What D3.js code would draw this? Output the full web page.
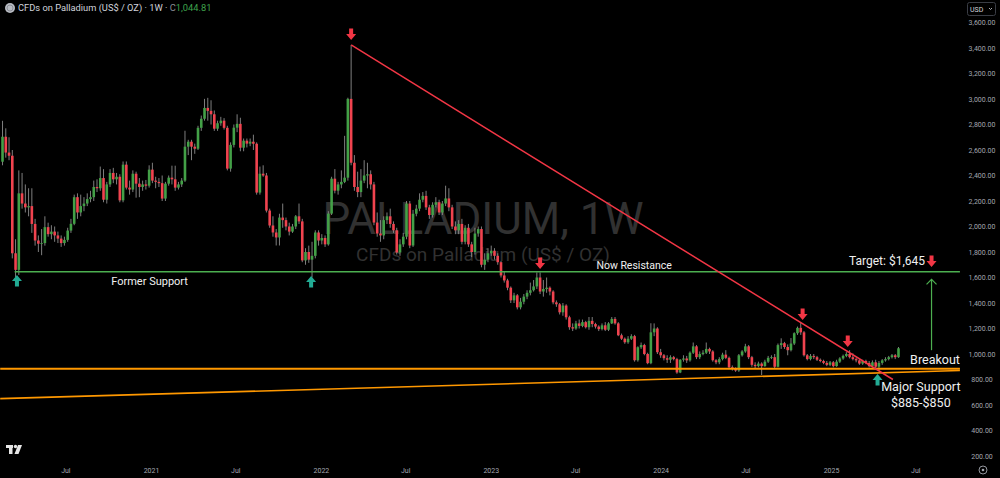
<!DOCTYPE html>
<html>
<head>
<meta charset="utf-8">
<script src="https://cdn.jsdelivr.net/npm/d3@7/dist/d3.min.js"></script>
<style>
  html, body { margin: 0; padding: 0; background: #000; }
  svg { display: block; }
  text { font-family: Roboto, "Noto Sans", sans-serif; }
</style>
</head>
<body>
<script>
// weekly candles [open, high, low, close]
var c2020 = [ // from 2020-02-17
  [2508,2829,2480,2704],[2704,2770,2540,2580],[2580,2700,2520,2555],[2555,2600,1750,1790],
  [1790,1900,1600,1660],[1660,2440,1620,2260],[2260,2420,2140,2180],[2180,2330,2110,2150],
  [2150,2300,2080,2160],[2160,2300,1950,2020],[2020,2060,1850,1890],[1890,1930,1800,1865],
  [1865,1980,1775,1870],[1870,2080,1850,1995],[1995,2030,1920,1940],[1940,2010,1900,1960],
  [1960,2000,1880,1930],[1930,1960,1870,1905],[1905,1930,1840,1870],[1870,1920,1850,1895],
  [1895,1990,1880,1968],[1968,2060,1950,2021],[2021,2250,2010,2230],[2230,2260,2060,2110],
  [2110,2250,2080,2160],[2160,2230,2120,2180],[2180,2260,2160,2215],[2215,2280,2190,2230],
  [2230,2360,2200,2310],[2310,2370,2270,2300],[2300,2470,2280,2380],[2380,2450,2190,2210],
  [2210,2350,2180,2330],[2330,2450,2310,2420],[2420,2460,2340,2370],[2370,2420,2330,2390],
  [2390,2410,2190,2205],[2205,2510,2190,2485],[2485,2510,2290,2305],[2305,2360,2250,2290],
  [2290,2440,2270,2414],[2414,2430,2226,2336],[2336,2380,2230,2310],[2310,2360,2280,2330],
  [2330,2365,2290,2320],[2320,2480,2305,2446]
];
var c2021 = [ // from 2021-01-04
  [2446,2500,2340,2360],[2360,2390,2300,2350],[2350,2380,2310,2340],[2340,2400,2200,2219],
  [2219,2350,2200,2336],[2336,2400,2320,2383],[2383,2477,2330,2370],[2370,2477,2280,2305],
  [2305,2350,2290,2330],[2330,2380,2310,2360],[2360,2751,2350,2626],[2626,2680,2560,2665],
  [2665,2680,2520,2626],[2626,2650,2570,2610],[2610,2790,2600,2774],[2774,2870,2750,2845],
  [2845,3001,2830,2930],[2930,3009,2830,2907],[2907,2990,2800,2880],[2880,2910,2750,2767],
  [2767,2830,2750,2810],[2810,2860,2790,2830],[2830,2850,2760,2774],[2774,2790,2440,2454],
  [2454,2660,2430,2640],[2640,2800,2620,2775],[2775,2880,2740,2805],[2805,2853,2590,2618],
  [2618,2690,2590,2673],[2673,2690,2620,2650],[2650,2690,2630,2665],[2665,2720,2600,2649],
  [2649,2660,2250,2266],[2266,2470,2250,2414],[2414,2480,2390,2400],[2400,2420,2110,2125],
  [2125,2140,1990,2008],[2008,2080,1920,1953],[1953,1980,1851,1914],[1914,2100,1851,2070],
  [2070,2180,1990,2050],[2050,2070,1970,2000],[2000,2030,1930,1960],[1960,2020,1950,2000],
  [2000,2090,1980,2080],[2080,2180,2020,2040],[2040,2060,1720,1734],[1734,1830,1700,1800],
  [1800,1850,1715,1740],[1740,1880,1600,1770],[1770,1970,1750,1953],[1953,1970,1850,1890]
];
var c2022 = [ // from 2022-01-03
  [1890,1940,1860,1910],[1910,1930,1840,1860],[1860,2120,1850,2101],[2101,2390,2090,2375],
  [2375,2450,2260,2281],[2281,2350,2250,2330],[2330,2440,2300,2350],[2350,2711,2340,2383],
  [2383,3010,2360,3001],[3001,3424,2480,2500],[2500,2560,2280,2310],[2310,2430,2230,2270],
  [2270,2450,2230,2360],[2360,2520,2340,2400],[2400,2500,2300,2410],[2410,2440,2290,2330],
  [2330,2350,2010,2031],[2031,2110,1920,1945],[1945,2050,1880,1930],[1930,2080,1900,2050],
  [2050,2110,2020,2080],[2080,2140,1990,2020],[2020,2040,1950,1970],[1970,1990,1780,1796],
  [1796,1900,1770,1860],[1860,1950,1840,1920],[1920,2200,1900,2180],[2180,2200,1830,1851],
  [1851,2130,1840,2100],[2100,2170,2080,2140],[2140,2260,2120,2210],[2210,2270,2190,2240],
  [2240,2280,2130,2150],[2150,2170,2060,2090],[2090,2190,2070,2170],[2170,2230,2150,2190],
  [2190,2210,2090,2110],[2110,2200,2090,2180],[2180,2320,2160,2220],[2220,2300,2120,2150],
  [2150,2170,1980,2000],[2000,2040,1940,1970],[1970,2050,1940,2020],[2020,2060,1860,1880],
  [1880,2010,1860,1990],[1990,2020,1840,1860],[1860,1880,1760,1800],[1800,1990,1780,1945],
  [1945,2000,1920,1980],[1980,2000,1680,1700],[1700,1790,1660,1740],[1740,1830,1720,1790]
];
var c2023 = [ // from 2023-01-02
  [1790,1850,1770,1810],[1810,1830,1740,1770],[1770,1790,1700,1720],[1720,1730,1600,1616],
  [1616,1650,1560,1577],[1577,1590,1500,1520],[1520,1530,1400,1421],[1421,1480,1400,1460],
  [1460,1470,1350,1366],[1366,1440,1350,1410],[1410,1470,1390,1450],[1450,1500,1430,1480],
  [1480,1560,1460,1500],[1500,1580,1490,1530],[1530,1640,1510,1600],[1600,1640,1470,1490],
  [1490,1580,1450,1510],[1510,1600,1480,1520],[1520,1530,1460,1490],[1490,1500,1390,1405],
  [1405,1420,1370,1390],[1390,1400,1310,1327],[1327,1400,1300,1380],[1380,1390,1270,1288],
  [1288,1300,1190,1210],[1210,1240,1180,1200],[1200,1260,1190,1240],[1240,1270,1200,1220],
  [1220,1270,1210,1250],[1250,1260,1200,1210],[1210,1290,1190,1260],[1260,1290,1210,1235],
  [1235,1245,1200,1215],[1215,1225,1180,1195],[1195,1240,1185,1225],[1225,1250,1180,1190],
  [1190,1250,1180,1240],[1240,1290,1235,1275],[1275,1290,1230,1240],[1240,1250,1140,1147],
  [1147,1160,1110,1120],[1120,1130,1080,1092],[1092,1140,1080,1120],[1120,1155,1110,1140],
  [1140,1150,940,951],[951,1060,940,1053],[1053,1090,1040,1070],[1070,1080,990,1000],
  [1000,1010,920,928],[928,1241,920,1170],[1170,1240,1140,1200],[1200,1210,1000,1014]
];
var c2024 = [ // from 2024-01-01
  [1014,1040,970,990],[990,1000,950,967],[967,990,930,955],[955,990,930,975],
  [975,985,950,960],[960,970,845,855],[855,960,850,955],[955,990,940,965],
  [965,985,930,950],[950,1020,940,1010],[1010,1090,1000,1060],[1060,1070,960,975],
  [975,1020,960,1000],[1000,1030,990,1010],[1010,1090,1000,1040],[1040,1050,1000,1020],
  [1020,1030,940,951],[951,960,920,935],[935,975,920,960],[960,1010,950,995],
  [995,1030,960,970],[970,980,880,896],[896,910,870,885],[885,895,860,870],
  [870,1000,860,990],[990,1030,980,1020],[1020,1080,1010,1060],[1060,1070,960,975],
  [975,985,900,915],[915,935,890,905],[905,940,895,925],[925,935,835,905],
  [905,955,900,940],[940,985,930,970],[970,990,960,975],[975,1000,890,900],
  [900,1082,895,1070],[1070,1123,1040,1085],[1085,1095,1040,1055],[1055,1075,990,1030],
  [1030,1125,1020,1082],[1082,1170,1070,1163],[1163,1215,1150,1205],[1205,1245,1150,1170],
  [1170,1180,980,990],[990,1000,950,960],[960,1000,950,985],[985,1000,960,975],
  [975,985,945,955],[955,965,935,945],[945,955,920,930],[930,945,905,915],
  [915,945,905,935]
];
var c2025 = [ // from 2025-01-06
  [935,945,895,905],[905,955,900,940],[940,975,930,965],[965,995,955,985],
  [985,1015,975,1000],[1000,1030,965,975],[975,1005,950,960],[960,970,935,950],
  [950,960,915,925],[925,955,915,945],[945,955,920,930],[930,945,895,905],
  [905,950,900,935],[935,955,890,900],[900,945,870,930],[930,960,915,950],
  [950,975,940,960],[960,985,950,975],[975,1000,965,990],[990,1000,960,975],
  [975,1055,970,1044.81]
];
var yearStarts = ["2020-02-17", "2021-01-04", "2022-01-03", "2023-01-02", "2024-01-01", "2025-01-06"];

var yTicks = [200,400,600,800,1000,1200,1400,1600,1800,2000,2200,2400,2600,2800,3000,3200,3400,3600];
var xTickDates = ["2020-07-01","2021-01-01","2021-07-01","2022-01-01","2022-07-01","2023-01-01",
                  "2023-07-01","2024-01-01","2024-07-01","2025-01-01","2025-07-01"];
var xTickLabels = ["Jul","2021","Jul","2022","Jul","2023","Jul","2024","Jul","2025","Jul"];

// drawn levels and trend lines
var chartEdges = ["2020-02-12", "2025-10-05"];
var resistance = {from: "2020-03-14", value: 1645};
var support = 885;
var risingLine = [650, 870];
var downTrend = [{date: "2022-03-07", value: 3424}, {date: "2025-05-14", value: 800}];
var redArrows = [
  {date: "2022-03-07", value: 3463}, {date: "2023-04-17", value: 1667},
  {date: "2024-11-01", value: 1267}, {date: "2025-02-06", value: 1055},
  {date: "2025-08-05", value: 1682}
];
var greenArrows = [
  {date: "2020-03-19", value: 1620}, {date: "2021-12-11", value: 1612},
  {date: "2025-04-11", value: 843}
];
var targetMove = {date: "2025-08-05", from: 1030, to: 1585};
var labels = [
  {text: "Former Support", date: "2020-12-29", value: 1565, size: 11, anchor: "middle"},
  {text: "Now Resistance", date: "2023-11-05", value: 1685, size: 10.5, anchor: "middle"},
  {text: "Target: $1,645", date: "2025-07-22", value: 1722, size: 12, anchor: "end"},
  {text: "Breakout", date: "2025-06-20", value: 945, size: 12.5, anchor: "start"},
  {text: "Major Support", date: "2025-07-13", value: 733, size: 12.5, anchor: "middle"},
  {text: "$885-$850", date: "2025-07-13", value: 608, size: 12.5, anchor: "middle"}
];

var width = 1000, height = 478, plotRight = 960;
var parse = d3.utcParse("%Y-%m-%d");

var candles = [];
[c2020, c2021, c2022, c2023, c2024, c2025].forEach(function(rows, k) {
  var start = parse(yearStarts[k]);
  rows.forEach(function(r, i) {
    candles.push({date: d3.utcWeek.offset(start, i), o: r[0], h: r[1], l: r[2], c: r[3]});
  });
});

var x = d3.scaleUtc()
  .domain([parse("2021-01-01"), parse("2025-01-01")])
  .range([151, 831]);
var y = d3.scaleLinear().domain([200, 3400]).range([456, 48]);

var svg = d3.select("body").append("svg")
  .attr("width", width)
  .attr("height", height)
  .style("background", "#000");

svg.append("defs").append("clipPath").attr("id", "plot")
  .append("rect").attr("x", 0).attr("y", 0).attr("width", plotRight).attr("height", 462);

// watermark
svg.append("text")
  .attr("x", 483).attr("y", 234)
  .attr("text-anchor", "middle")
  .style("font-size", "44px").style("fill", "#313131")
  .text("PALLADIUM, 1W");
svg.append("text")
  .attr("x", 483).attr("y", 261)
  .attr("text-anchor", "middle")
  .style("font-size", "19px").style("fill", "#313131")
  .text("CFDs on Palladium (US$ / OZ)");

var plot = svg.append("g").attr("clip-path", "url(#plot)");

//candles
var up = "#43a047", down = "#f0434f";
var candle = plot.append("g").selectAll("g").data(candles).join("g");
candle.append("line")
  .attr("x1", function(d) { return x(d.date); })
  .attr("x2", function(d) { return x(d.date); })
  .attr("y1", function(d) { return y(d.h); })
  .attr("y2", function(d) { return y(d.l); })
  .attr("stroke", "#8c8c8c")
  .attr("stroke-width", 0.9);
candle.append("rect")
  .attr("x", function(d) { return x(d.date) - 1.3; })
  .attr("width", 2.6)
  .attr("y", function(d) { return y(Math.max(d.o, d.c)); })
  .attr("height", function(d) { return Math.max(0.8, Math.abs(y(d.o) - y(d.c))); })
  .attr("fill", function(d) { return d.c >= d.o ? up : down; });

// levels
var edge0 = parse(chartEdges[0]), edge1 = parse(chartEdges[1]);
plot.append("line")
  .attr("x1", x(parse(resistance.from))).attr("x2", x(edge1))
  .attr("y1", y(resistance.value)).attr("y2", y(resistance.value))
  .attr("stroke", "#4caf50").attr("stroke-width", 1.5);
plot.append("line")
  .attr("x1", x(edge0)).attr("x2", x(edge1))
  .attr("y1", y(support)).attr("y2", y(support))
  .attr("stroke", "#ff9800").attr("stroke-width", 2);
plot.append("line")
  .attr("x1", x(edge0)).attr("x2", x(edge1))
  .attr("y1", y(risingLine[0])).attr("y2", y(risingLine[1]))
  .attr("stroke", "#ff9800").attr("stroke-width", 1.6);
plot.append("line")
  .attr("x1", x(parse(downTrend[0].date))).attr("y1", y(downTrend[0].value))
  .attr("x2", x(parse(downTrend[1].date))).attr("y2", y(downTrend[1].value))
  .attr("stroke", "#f23645").attr("stroke-width", 1.5);

// target move
var tx = x(parse(targetMove.date));
plot.append("line")
  .attr("x1", tx).attr("x2", tx)
  .attr("y1", y(targetMove.from)).attr("y2", y(targetMove.to))
  .attr("stroke", "#4caf50").attr("stroke-width", 1.2);
plot.append("path")
  .attr("d", "M" + (tx - 5) + "," + (y(targetMove.to) + 5) + "L" + tx + "," + y(targetMove.to) +
             "L" + (tx + 5) + "," + (y(targetMove.to) + 5))
  .attr("fill", "none").attr("stroke", "#4caf50").attr("stroke-width", 1.2);

// block arrows, tip at (cx, ty); dir 1 = down, -1 = up
function arrowPath(cx, ty, dir) {
  var hw = 5, sw = 2, hh = 6, len = 11.5;
  var b = ty - dir * hh, t = ty - dir * len;
  return "M" + cx + "," + ty +
    "L" + (cx - hw) + "," + b + "L" + (cx - sw) + "," + b + "L" + (cx - sw) + "," + t +
    "L" + (cx + sw) + "," + t + "L" + (cx + sw) + "," + b + "L" + (cx + hw) + "," + b + "Z";
}
plot.append("g").selectAll("path").data(redArrows).join("path")
  .attr("d", function(d) { return arrowPath(x(parse(d.date)), y(d.value), 1); })
  .attr("fill", "#f23645");
plot.append("g").selectAll("path").data(greenArrows).join("path")
  .attr("d", function(d) { return arrowPath(x(parse(d.date)), y(d.value), -1); })
  .attr("fill", "#22ab94");

// annotation texts
svg.append("g").selectAll("text").data(labels).join("text")
  .attr("x", function(d) { return x(parse(d.date)); })
  .attr("y", function(d) { return y(d.value); })
  .attr("text-anchor", function(d) { return d.anchor; })
  .attr("dominant-baseline", "middle")
  .style("font-size", function(d) { return d.size + "px"; })
  .style("fill", "#f0f0f0")
  .text(function(d) { return d.text; });

// price axis
var yAxis = svg.append("g")
  .attr("transform", "translate(982,0)")
  .call(d3.axisRight(y).tickValues(yTicks).tickSize(0).tickFormat(d3.format(",.2f")));
yAxis.select(".domain").remove();
yAxis.selectAll("text")
  .attr("x", 0).attr("text-anchor", "middle")
  .style("font-family", "Roboto, sans-serif").style("font-size", "7px").style("fill", "#a3a6af");

// time axis
var xAxis = svg.append("g")
  .attr("transform", "translate(0,466)")
  .call(d3.axisBottom(x).tickValues(xTickDates.map(parse)).tickSize(0)
    .tickFormat(function(d, i) { return xTickLabels[i]; }));
xAxis.select(".domain").remove();
xAxis.selectAll("text")
  .attr("y", 2)
  .style("font-family", "Roboto, sans-serif").style("font-size", "7px").style("fill", "#a3a6af");

// header
var last = candles[candles.length - 1];
var head = svg.append("text").attr("x", 18).attr("y", 11)
  .style("font-size", "9.3px").style("fill", "#d1d4dc");
head.append("tspan").text("CFDs on Palladium (US$ / OZ) \u00b7 1W \u00b7 ");
head.append("tspan").style("fill", "#8a8d96").text("C");
head.append("tspan").style("fill", "#3fa34d").text(d3.format(",.2f")(last.c));
svg.append("circle").attr("cx", 10).attr("cy", 8).attr("r", 5).attr("fill", "#b8bbc2");
svg.append("circle").attr("cx", 10).attr("cy", 8).attr("r", 3).attr("fill", "none")
  .attr("stroke", "#8a8d96").attr("stroke-width", 1);

// currency button
svg.append("rect").attr("x", 967.5).attr("y", 2.5).attr("width", 28).attr("height", 13).attr("rx", 2)
  .attr("fill", "#000").attr("stroke", "#3a3d45");
svg.append("text").attr("x", 970).attr("y", 11.5)
  .style("font-size", "7px").style("fill", "#d1d4dc").text("USD");
svg.append("path").attr("d", "M989,8L990.5,9.5L992,8").attr("fill", "none")
  .attr("stroke", "#d1d4dc").attr("stroke-width", 0.8);

// logo
var logo = svg.append("g").attr("fill", "#e6e6e6");
logo.append("rect").attr("x", 6).attr("y", 445).attr("width", 7).attr("height", 3);
logo.append("rect").attr("x", 9).attr("y", 445).attr("width", 3.5).attr("height", 9);
logo.append("circle").attr("cx", 15.5).attr("cy", 446.5).attr("r", 1.7);
logo.append("path").attr("d", "M18,445L22,445L18.5,454L14.5,454Z");

// settings button
svg.append("circle").attr("cx", 983).attr("cy", 470).attr("r", 4).attr("fill", "none")
  .attr("stroke", "#a3a6af").attr("stroke-width", 0.9);
svg.append("circle").attr("cx", 983).attr("cy", 470).attr("r", 1.3).attr("fill", "#a3a6af");
</script>
</body>
</html>
